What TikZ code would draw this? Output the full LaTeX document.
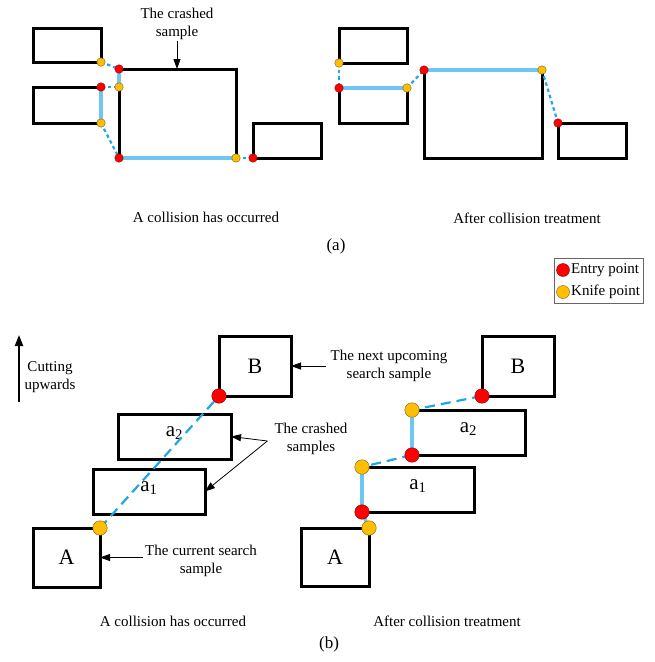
\documentclass[tikz,border=0pt]{standalone}
\usepackage{fontspec}
\setmainfont{Liberation Serif}
\usetikzlibrary{arrows.meta}
\definecolor{cutblue}{HTML}{6EC6F2}
\definecolor{pathblue}{HTML}{1FA6E6}
\definecolor{entryred}{HTML}{FF0000}
\definecolor{knifegold}{HTML}{FFBF00}
\definecolor{dotrim}{HTML}{7A5C1E}

\begin{document}
\begin{tikzpicture}[x=1pt,y=-1pt,
  sample/.style={draw=black, line width=3pt, outer sep=0pt, inner sep=0pt, anchor=north west},
  cutedge/.style={draw=cutblue, line width=3.4pt},
  jumpshort/.style={draw=pathblue, line width=2.2pt, dash pattern=on 3.5pt off 3pt},
  jumplong/.style={draw=pathblue, line width=2.2pt, dash pattern=on 10pt off 6pt},
  entrydot/.style={circle, fill=entryred, draw=entryred!55!black, line width=0.4pt, inner sep=0pt, minimum size=#1},
  knifedot/.style={circle, fill=knifegold, draw=dotrim, line width=0.4pt, inner sep=0pt, minimum size=#1},
  txt/.style={font=\fontsize{15}{18.5}\selectfont, align=center, inner sep=1pt},
  pointer/.style={draw=black, line width=0.8pt, -{Triangle[length=10pt,width=7pt]}},
  boxlabel/.style={font=\fontsize{22}{24}\selectfont},
  sublabel/.style={font=\fontsize{21}{24}\selectfont}]

\useasboundingbox (0,0) rectangle (654,662);

% ---------------- (a) left: collision has occurred ----------------
\node[sample, minimum width=68pt, minimum height=34pt] (tl1) at (33,28) {};
\node[sample, minimum width=68pt, minimum height=36pt] (tl2) at (33,87) {};
\node[sample, minimum width=117pt, minimum height=89pt] (tlm) at (119,69) {};
\node[sample, minimum width=68pt, minimum height=35pt] (tlr) at (253,123) {};

\coordinate (ak1) at (tl1.south east);
\coordinate (ae1) at (tlm.north west);
\coordinate (ae2) at (tl2.north east);
\coordinate (ak2) at (tlm.west |- tl2.north);
\coordinate (ak3) at (tl2.south east);
\coordinate (ae3) at (tlm.south west);
\coordinate (ak4) at (tlm.south east);
\coordinate (ae4) at (tlr.south west);

\draw[jumpshort] (ak1) -- (ae1);
\draw[cutedge] (ae1) -- (ak2);
\draw[jumpshort] (ae2) -- (ak2);
\draw[cutedge] (ae2) -- (ak3);
\draw[jumpshort] (ak3) -- (ae3);
\draw[cutedge] (ae3) -- (ak4);
\draw[jumpshort] (ak4) -- (ae4);

\foreach \p in {ae1,ae2,ae3,ae4} \node[entrydot=8.5pt] (\p d) at (\p) {};
\foreach \p in {ak1,ak2,ak3,ak4} \node[knifedot=8.5pt] (\p d) at (\p) {};

\node[txt] (crashlbl) at (177,24) {The crashed\\sample};
\draw[pointer] (crashlbl.south) -- (crashlbl.south |- tlm.north);

\node[txt] (capa1) at (206,217) {A collision has occurred};

% ---------------- (a) right: after collision treatment ----------------
\node[sample, minimum width=68pt, minimum height=35pt] (tr1) at (339,28) {};
\node[sample, minimum width=68pt, minimum height=35pt] (tr2) at (339,88) {};
\node[sample, minimum width=118pt, minimum height=88pt] (trm) at (424,70) {};
\node[sample, minimum width=68pt, minimum height=35pt] (trr) at (558,123) {};

\coordinate (bk1) at (tr1.south west);
\coordinate (be1) at (tr2.north west);
\coordinate (bk2) at (tr2.north east);
\coordinate (be2) at (trm.north west);
\coordinate (bk3) at (trm.north east);
\coordinate (be3) at (trr.north west);

\draw[jumpshort] (bk1) -- (be1);
\draw[cutedge] (be1) -- (bk2);
\draw[jumpshort] (bk2) -- (be2);
\draw[cutedge] (be2) -- (bk3);
\draw[jumpshort] (bk3) -- (be3);

\foreach \p in {be1,be2,be3} \node[entrydot=8.5pt] (\p d) at (\p) {};
\foreach \p in {bk1,bk2,bk3} \node[knifedot=8.5pt] (\p d) at (\p) {};

\node[txt] (capa2) at (527,218) {After collision treatment};

\node[font=\fontsize{17}{20}\selectfont] (suba) at (336,246) {(a)};

% ---------------- legend ----------------
\node[draw=black!60, line width=0.8pt, minimum width=89pt, minimum height=45pt, inner sep=0pt, outer sep=0pt, anchor=north west] (legend) at (554,258) {};
\node[entrydot=13pt] (legred) at (563,270) {};
\node[knifedot=13pt] (legyel) at (563,292) {};
\node[txt, anchor=west, inner sep=0pt] (legtxt1) at (571,270) {Entry point};
\node[txt, anchor=west, inner sep=0pt] (legtxt2) at (571,292) {Knife point};

% ---------------- (b) left: collision has occurred ----------------
\coordinate (upfoot) at (19,402);
\coordinate (uphead) at (19,335);
\draw[draw=black, line width=2pt, -{Triangle[length=11pt,width=8pt]}] (upfoot) -- (uphead);
\node[txt] (uplbl) at (50,377) {Cutting\\upwards};

\node[sample, minimum width=72pt, minimum height=60pt] (lB) at (219,336) {};
\node[sample, minimum width=113pt, minimum height=45pt] (la2) at (118,414) {};
\node[sample, minimum width=112pt, minimum height=45pt] (la1) at (93,469) {};
\node[sample, minimum width=67pt, minimum height=59pt] (lA) at (33,528) {};
\node[boxlabel] (lBt) at (lB.center) {B};
\node[sublabel] (la2t) at ([yshift=3pt]la2.center) {a\textsubscript{2}};
\node[sublabel] (la1t) at ([yshift=3pt]la1.center) {a\textsubscript{1}};
\node[boxlabel] (lAt) at (lA.center) {A};

\coordinate (ce1) at (lB.south west);
\coordinate (ck1) at (lA.north east);
\draw[jumplong] (ck1) -- (ce1);
\node[entrydot=14.5pt] (ce1d) at (ce1) {};
\node[knifedot=14.5pt] (ck1d) at (ck1) {};

\node[txt] (nextlbl) at (389,366) {The next upcoming\\search sample};
\draw[pointer] ([xshift=-3pt]nextlbl.west) -- (lB.east);

\node[txt] (crashedlbl) at (311,439) {The crashed\\samples};
\coordinate (fork) at ([xshift=-6pt,yshift=-2pt]crashedlbl.west);
\draw[pointer] (fork) -- (la2.east);
\draw[pointer] (fork) -- (la1.east);

\node[txt] (curlbl) at (201,561) {The current search\\sample};
\draw[pointer] ([xshift=-1pt]curlbl.west |- lA.east) -- (lA.east);

\node[txt] (capb1) at (173,621) {A collision has occurred};

% ---------------- (b) right: after collision treatment ----------------
\node[sample, minimum width=72pt, minimum height=60pt] (rB) at (482,336) {};
\node[sample, minimum width=113pt, minimum height=45pt] (ra2) at (412,410) {};
\node[sample, minimum width=112pt, minimum height=45pt] (ra1) at (362,467) {};
\node[sample, minimum width=68pt, minimum height=58pt] (rA) at (301,528) {};
\node[boxlabel] (rBt) at (rB.center) {B};
\node[sublabel] (ra2t) at ([yshift=3pt]ra2.center) {a\textsubscript{2}};
\node[sublabel] (ra1t) at ([yshift=3pt]ra1.center) {a\textsubscript{1}};
\node[boxlabel] (rAt) at (rA.center) {A};

\coordinate (de1) at (rB.south west);
\coordinate (dk1) at (ra2.north west);
\coordinate (de2) at (ra2.south west);
\coordinate (dk2) at (ra1.north west);
\coordinate (de3) at (ra1.south west);
\coordinate (dk3) at (rA.north east);

\draw[jumplong] (de1) -- (dk1);
\draw[cutedge] (dk1) -- (de2);
\draw[jumplong] (de2) -- (dk2);
\draw[cutedge] (dk2) -- (de3);
\draw[cutedge] (de3) -- (dk3);

\foreach \p in {de1,de2,de3} \node[entrydot=14.5pt] (\p d) at (\p) {};
\foreach \p in {dk1,dk2,dk3} \node[knifedot=14.5pt] (\p d) at (\p) {};

\node[txt] (capb2) at (447,621) {After collision treatment};

\node[font=\fontsize{17}{20}\selectfont] (subb) at (329,644) {(b)};

\end{tikzpicture}
\end{document}
